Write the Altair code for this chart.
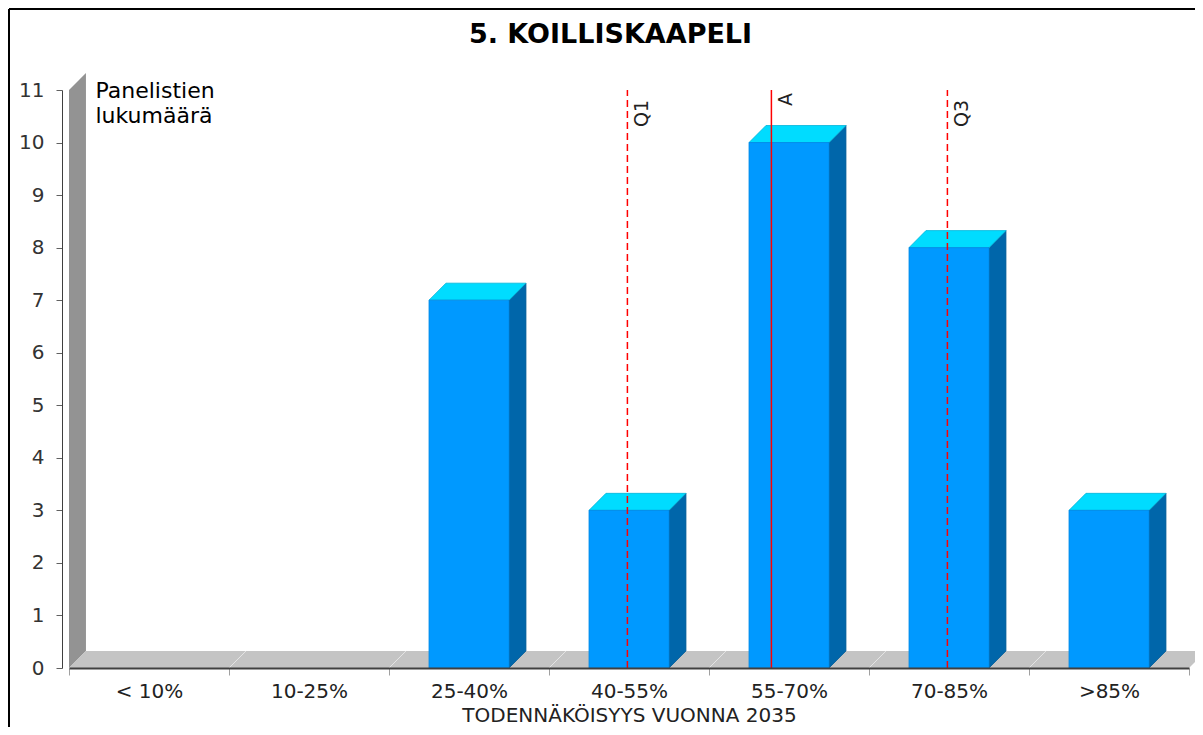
import altair as alt
import pandas as pd

# ---- data ----
categories = ["< 10%", "10-25%", "25-40%", "40-55%", "55-70%", "70-85%", ">85%"]
counts = [0, 0, 7, 3, 10, 8, 3]
marker_labels = ["Q1", "A", "Q3"]
marker_positions = [3.49, 4.39, 5.49]  # in category-index units along x
marker_kinds = ["quartile", "mean", "quartile"]
y_ticks = list(range(12))

title_text = "5. KOILLISKAAPELI"
x_title = "TODENNÄKÖISYYS VUONNA 2035"
y_title = ["Panelistien", "lukumäärä"]

# ---- styling / layout constants ----
FONT = "DejaVu Sans"
W, H = 1120, 578
PAD = {"left": 61, "top": 82, "right": 6, "bottom": 59}
N = len(categories)
YMAX = 11
DX = 0.106   # 3D depth, x units
DY = 0.324   # 3D depth, y units
HALF = 0.25  # half bar width, category units

FRONT, TOP, SIDE = "#0099ff", "#00dcff", "#0066aa"

front_rows, top_rows, side_rows = [], [], []
for i, (c, v) in enumerate(zip(categories, counts)):
    if v <= 0:
        continue
    x0, x1 = i + 0.5 - HALF, i + 0.5 + HALF
    front_rows.append(dict(bar=c, x=x0, x2=x1, y=0, y2=v))
    top_rows += [
        dict(bar=c, x=x0, y=v, y2=v),
        dict(bar=c, x=x0 + DX, y=v, y2=v + DY),
        dict(bar=c, x=x1, y=v, y2=v + DY),
        dict(bar=c, x=x1 + DX, y=v + DY, y2=v + DY),
    ]
    side_rows += [
        dict(bar=c, x=x1, y=0, y2=v),
        dict(bar=c, x=x1 + DX, y=DY, y2=v + DY),
    ]

wall_df = pd.DataFrame([dict(x=0, y=0, y2=YMAX), dict(x=DX, y=DY, y2=YMAX + DY)])
floor_df = pd.DataFrame([
    dict(x=0, y=0, y2=0), dict(x=DX, y=0, y2=DY),
    dict(x=N, y=0, y2=DY), dict(x=N + DX, y=DY, y2=DY),
])
floor_lines_df = pd.DataFrame([dict(x=i, x2=i + DX, y=0, y2=DY) for i in range(1, N)])
front_df = pd.DataFrame(front_rows)
top_df = pd.DataFrame(top_rows)
side_df = pd.DataFrame(side_rows)
marker_df = pd.DataFrame(dict(label=marker_labels, x=marker_positions,
                              kind=marker_kinds, y=0, y2=YMAX))
label_df = marker_df.assign(y=YMAX)

label_expr = ("datum.value < %d ? [%s][datum.value] : ''"
              % (N, ",".join("'%s'" % c for c in categories)))

XS = alt.Scale(domain=[0, N], nice=False, zero=False)
YS = alt.Scale(domain=[0, YMAX], nice=False, zero=False)

X_AX = alt.Axis(values=list(range(N + 1)), labelExpr=label_expr,
                labelOffset=W / N / 2, labelFlush=False, labelOverlap=False,
                labelFont=FONT, labelFontSize=20, labelColor="#222",
                labelPadding=6, tickSize=7, tickColor="#a0a0a0",
                domainColor="#404040", domainWidth=2, grid=False,
                title=x_title, titleFont=FONT, titleFontSize=20,
                titleFontWeight="normal", titleColor="#222",
                titleY=53, titleBaseline="alphabetic", zindex=1)
Y_AX = alt.Axis(values=y_ticks, offset=7, labelFlush=False, labelOverlap=False,
                labelFont=FONT, labelFontSize=20, labelColor="#333",
                labelPadding=12, tickSize=6, tickColor="#606060",
                domainColor="#404040", grid=False,
                title=y_title, titleAngle=0, titleAlign="left",
                titleBaseline="alphabetic", titleX=33, titleY=7,
                titleFont=FONT, titleFontSize=22, titleFontWeight="normal",
                titleColor="black", titleLineHeight=25)


def X():
    return alt.X("x:Q", scale=XS, axis=X_AX)


def Y():
    return alt.Y("y:Q", scale=YS, axis=Y_AX)


one = alt.Data(values=[{}])
border_left = alt.Chart(one).mark_rule(color="black", strokeWidth=2).encode(
    x=alt.value(-60), y=alt.value(-81), y2=alt.value(H + PAD["bottom"]))
border_top = alt.Chart(one).mark_rule(color="black", strokeWidth=2).encode(
    x=alt.value(-60), x2=alt.value(W + PAD["right"]), y=alt.value(-81))

wall = alt.Chart(wall_df).mark_area(color="#939393").encode(
    x=X(), y=Y(), y2="y2:Q")
floor = alt.Chart(floor_df).mark_area(color="#c4c4c4").encode(
    x=X(), y=Y(), y2="y2:Q")
floor_lines = alt.Chart(floor_lines_df).mark_rule(color="#e6e6e6", strokeWidth=1).encode(
    x=X(), x2="x2:Q", y=Y(), y2="y2:Q")

sides = alt.Chart(side_df).mark_area(color=SIDE, stroke="#005a96", strokeWidth=0.8).encode(
    x=X(), y=Y(), y2="y2:Q", detail="bar:N")
tops = alt.Chart(top_df).mark_area(color=TOP, stroke="#00b4d8", strokeWidth=0.8).encode(
    x=X(), y=Y(), y2="y2:Q", detail="bar:N")
fronts = alt.Chart(front_df).mark_rect(color=FRONT, stroke="#0088e6", strokeWidth=0.8).encode(
    x=X(), x2="x2:Q", y=Y(), y2="y2:Q")

markers = alt.Chart(marker_df).mark_rule(stroke="#ff0000", strokeWidth=1.5, opacity=1).encode(
    x=X(), y=Y(), y2="y2:Q",
    strokeDash=alt.StrokeDash("kind:N", scale=alt.Scale(
        domain=["quartile", "mean"], range=[[7, 4], [1, 0]]), legend=None))

q_labels = alt.Chart(label_df[label_df.kind == "quartile"]).mark_text(
    angle=270, align="right", baseline="top", dx=-10, dy=6,
    font=FONT, fontSize=19, color="#222"
).encode(x=X(), y=Y(), text="label:N")
a_labels = alt.Chart(label_df[label_df.kind == "mean"]).mark_text(
    angle=270, align="right", baseline="top", dx=-3, dy=6,
    font=FONT, fontSize=19, color="#222"
).encode(x=X(), y=Y(), text="label:N")

title = alt.Chart(alt.Data(values=[{"t": title_text}])).mark_text(
    font=FONT, fontSize=27, fontWeight="bold", color="black",
    align="center", baseline="alphabetic"
).encode(text="t:N", x=alt.value(541.5), y=alt.value(-47))

chart = alt.layer(
    border_left, border_top, wall, floor, floor_lines, sides, tops, fronts,
    markers, q_labels, a_labels, title
).properties(
    width=W, height=H,
    autosize=alt.AutoSizeParams(type="none"),
    padding=PAD,
    background="white",
).configure_view(stroke=None)

chart.save("out.html", embed_options={"renderer": "svg", "actions": False})
